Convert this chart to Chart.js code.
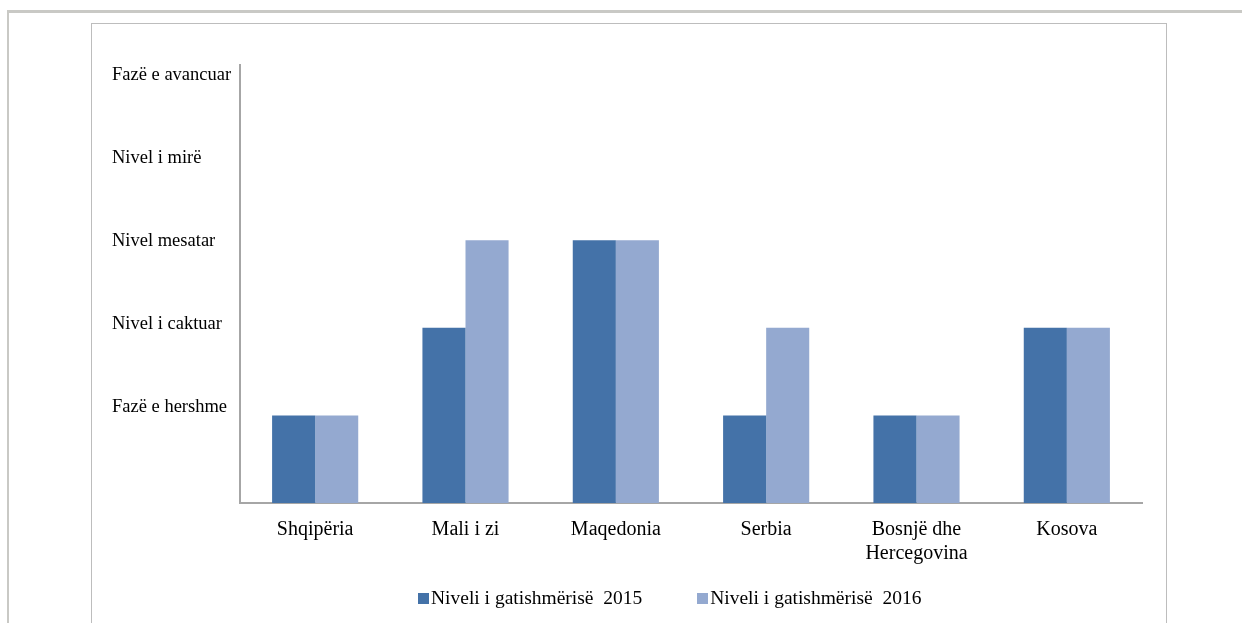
<!DOCTYPE html>
<html>
<head>
<meta charset="utf-8">
<script src="https://cdn.jsdelivr.net/npm/chart.js@4/dist/chart.umd.min.js"></script>
<style>
  body { margin: 0; background: #fff; overflow: hidden; }
  #outer { position: absolute; left: 7px; top: 10px; width: 1400px; height: 800px;
           border-top: 3px solid #c9c9c5; border-left: 2px solid #c9c9c5; }
  #frame { position: absolute; left: 91px; top: 23px; width: 1074px; height: 800px;
           border: 1px solid #bdbdbd; border-bottom: none; }
  #wrap { position: absolute; left: 0; top: 0; width: 1242px; height: 623px; }
  #legend { position: absolute; left: 418px; top: 587px; display: flex; align-items: center;
            font: 19.5px "Liberation Serif", "Times New Roman", serif; color: #000; white-space: pre; }
  #legend span.box { display: inline-block; width: 11px; height: 11px; margin-right: 2px; }
  #legend .item { display: flex; align-items: center; }
  #legend .item + .item { margin-left: 55px; }
</style>
</head>
<body>
<div id="outer"></div>
<div id="frame"></div>
<div id="wrap"><canvas id="Gatishmeria"></canvas></div>
<div id="legend"></div>
<script>
const vendet = ['Shqipëria', 'Mali i zi', 'Maqedonia', 'Serbia', ['Bosnjë dhe', 'Hercegovina'], 'Kosova'];
const niveli2015 = [1, 2, 3, 1, 1, 2];
const niveli2016 = [1, 3, 3, 2, 1, 2];
const nivelet = ['Fazë e hershme', 'Nivel i caktuar', 'Nivel mesatar', 'Nivel i mirë', 'Fazë e avancuar'];
const seriet = ['Niveli i gatishmërisë  2015', 'Niveli i gatishmërisë  2016'];
const ngjyrat = ['#4472a8', '#94a9d0'];

const gri = '#a6a6a6';
const ctx = document.getElementById('Gatishmeria').getContext('2d');

var myChart = new Chart(ctx, {
    type: 'bar',
    data: {
        labels: vendet,
        datasets: [{
            label: seriet[0],
            data: niveli2015,
            backgroundColor: ngjyrat[0],
            borderWidth: 0
        }, {
            label: seriet[1],
            data: niveli2016,
            backgroundColor: ngjyrat[1],
            borderWidth: 0
        }]
    },
    options: {
        responsive: true,
        maintainAspectRatio: false,
        animation: false,
        categoryPercentage: 0.573,
        barPercentage: 1,
        layout: { padding: { left: 112, right: 100, top: 65, bottom: 50 } },
        plugins: { legend: { display: false }, tooltip: { enabled: false } },
        scales: {
            x: {
                grid: { display: false },
                border: { color: gri, width: 2 },
                ticks: {
                    color: '#000',
                    padding: 7,
                    maxRotation: 0,
                    font: { family: '"Liberation Serif", "Times New Roman", serif', size: 20 }
                }
            },
            y: {
                min: 0,
                max: 5,
                grid: { display: false },
                border: { color: gri, width: 2 },
                ticks: { display: false },
                afterFit: s => { s.width = 0; }
            },
            // emrat e niveleve, si kutia e tekstit ne origjinal
            yl: {
                position: 'left',
                min: -0.157,
                max: 5.12,
                grid: { display: false },
                border: { display: false },
                afterBuildTicks: s => { s.ticks = nivelet.map((_, i) => ({ value: i + 1 })); },
                afterFit: s => { s.width = 128; },
                ticks: {
                    color: '#000',
                    crossAlign: 'far',
                    callback: v => nivelet[v - 1] || '',
                    font: { family: '"Liberation Serif", "Times New Roman", serif', size: 18.5 }
                }
            }
        }
    }
});

// legjenda
const leg = document.getElementById('legend');
seriet.forEach((s, i) => {
    const item = document.createElement('div');
    item.className = 'item';
    const box = document.createElement('span');
    box.className = 'box';
    box.style.background = ngjyrat[i];
    item.appendChild(box);
    item.appendChild(document.createTextNode(s));
    leg.appendChild(item);
});
</script>
</body>
</html>
